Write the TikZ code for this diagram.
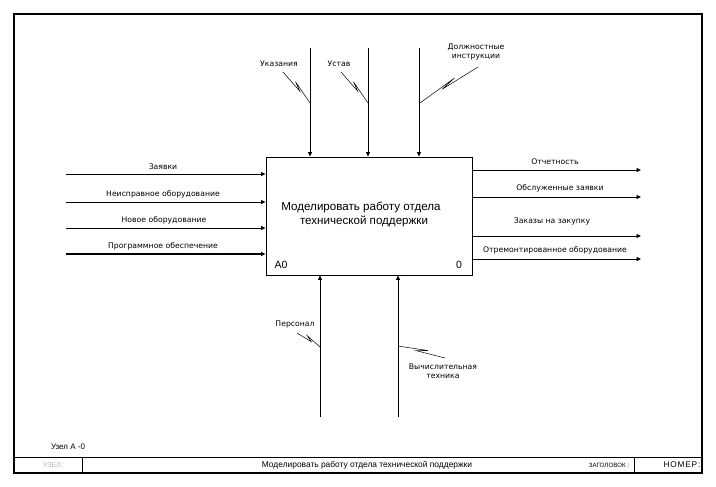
\documentclass[tikz,border=0pt]{standalone}
\usepackage{fontspec}
\setmainfont{Liberation Sans}
\newfontfamily\lblfont{DejaVu Sans}
\usetikzlibrary{arrows.meta,calc}
\tikzset{
  lbl/.style={font=\lblfont\fontsize{7.7}{8.6}\selectfont, inner sep=0pt, align=center},
  arr/.style={line width=0.8pt, -{Triangle[length=4.5pt,width=4pt]}},
  sq/.style={line width=0.5pt},
  frame/.style={line width=1.1pt},
}
\begin{document}
\begin{tikzpicture}[x=1pt,y=-1pt]
\useasboundingbox (0,0) rectangle (716,487);
% frame
\draw[frame] (14,473) -- (14,14) -- (702,14) -- (702,473) -- cycle;
\draw[line width=0.8pt] (14,457) -- (702,457);
\draw[line width=0.8pt] (82,457) -- (82,473);
\draw[line width=0.8pt] (634,457) -- (634,473);
\node[font=\fontsize{8}{9}\selectfont, inner sep=0pt] (node) at (68,447) {Узел А -0};
\node[font=\fontsize{7}{8}\selectfont, text=black!30, inner sep=0pt] (nodelbl) at (54,465) {УЗЕЛ :};
\node[font=\fontsize{8.4}{9}\selectfont, inner sep=0pt] (title) at (367,465) {Моделировать работу отдела технической поддержки};
\node[font=\fontsize{6.2}{7}\selectfont, inner sep=0pt] (titlelbl) at (609,465) {ЗАГОЛОВОК :};
\node[font=\fontsize{8.3}{9}\selectfont, inner sep=0pt] (number) at (682,465) {Н\kern0.8pt О\kern0.8pt М\kern0.8pt Е\kern0.8pt Р\kern0.8pt :};

% main box
\node[draw, line width=0.9pt, minimum width=206pt, minimum height=118pt, inner sep=0pt] (box) at (369,216) {};
\node[font=\fontsize{11.6}{14}\selectfont, align=center, inner sep=0pt] (boxtext) at (361,214) {Моделировать работу отдела\\\hspace*{6pt}технической поддержки};
\node[font=\fontsize{10.5}{12}\selectfont, inner sep=0pt] (a0) at (281,265) {A0};
\node[font=\fontsize{10.5}{12}\selectfont, inner sep=0pt] (zero) at (459,265) {0};

% inputs
\coordinate (i1) at (66,174);
\coordinate (i2) at (66,202);
\coordinate (i3) at (66,228);
\coordinate (i4) at (66,254);
\draw[arr] (i1) -- (i1 -| box.west);
\draw[arr] (i2) -- (i2 -| box.west);
\draw[arr] (i3) -- (i3 -| box.west);
\draw[arr, line width=1.5pt] (i4) -- (i4 -| box.west);
\node[lbl] (li1) at (163,167) {Заявки};
\node[lbl] (li2) at (163,194) {Неисправное оборудование};
\node[lbl] (li3) at (164,220) {Новое оборудование};
\node[lbl] (li4) at (163,246) {Программное обеспечение};

% outputs
\coordinate (o1) at (641,170);
\coordinate (o2) at (641,197);
\coordinate (o3) at (641,236);
\coordinate (o4) at (641,259);
\draw[arr] (o1 -| box.east) -- (o1);
\draw[arr] (o2 -| box.east) -- (o2);
\draw[arr] (o3 -| box.east) -- (o3);
\draw[arr] (o4 -| box.east) -- (o4);
\node[lbl] (lo1) at (555,162) {Отчетность};
\node[lbl] (lo2) at (560,188) {Обслуженные заявки};
\node[lbl] (lo3) at (552,221) {Заказы на закупку};
\node[lbl] (lo4) at (555,250) {Отремонтированное оборудование};

% controls
\coordinate (c1) at (310,48);
\coordinate (c2) at (368,48);
\coordinate (c3) at (419,48);
\draw[arr] (c1) -- (c1 |- box.north);
\draw[arr] (c2) -- (c2 |- box.north);
\draw[arr] (c3) -- (c3 |- box.north);
\node[lbl] (lc1) at (279,64) {Указания};
\node[lbl] (lc2) at (339,64) {Устав};
\node[lbl] (lc3) at (476,52) {Должностные\\инструкции};

% mechanisms
\coordinate (m1) at (320,417);
\coordinate (m2) at (398,417);
\draw[arr] (m1) -- (m1 |- box.south);
\draw[arr] (m2) -- (m2 |- box.south);
\node[lbl] (lm1) at (295,324) {Персонал};
\node[lbl] (lm2) at (443,371) {Вычислительная\\техника};

% squiggles
\coordinate (s1a) at (283,72);  \coordinate (s1b) at (310,103);
\coordinate (s2a) at (341,72);  \coordinate (s2b) at (368,103);
\coordinate (s3a) at (478,67);  \coordinate (s3b) at (420,103);
\coordinate (s4a) at (297,333); \coordinate (s4b) at (320,347);
\coordinate (s5a) at (445,358); \coordinate (s5b) at (398,346);
\foreach \s/\r in {s1/90,s2/90,s3/-90,s4/90,s5/-90}{
  \draw[sq] (\s a) -- ($(\s a)!0.62!(\s b)$) -- ($(\s a)!0.38!(\s b)!3pt!\r:(\s b)$) -- (\s b);
}
\end{tikzpicture}
\end{document}
